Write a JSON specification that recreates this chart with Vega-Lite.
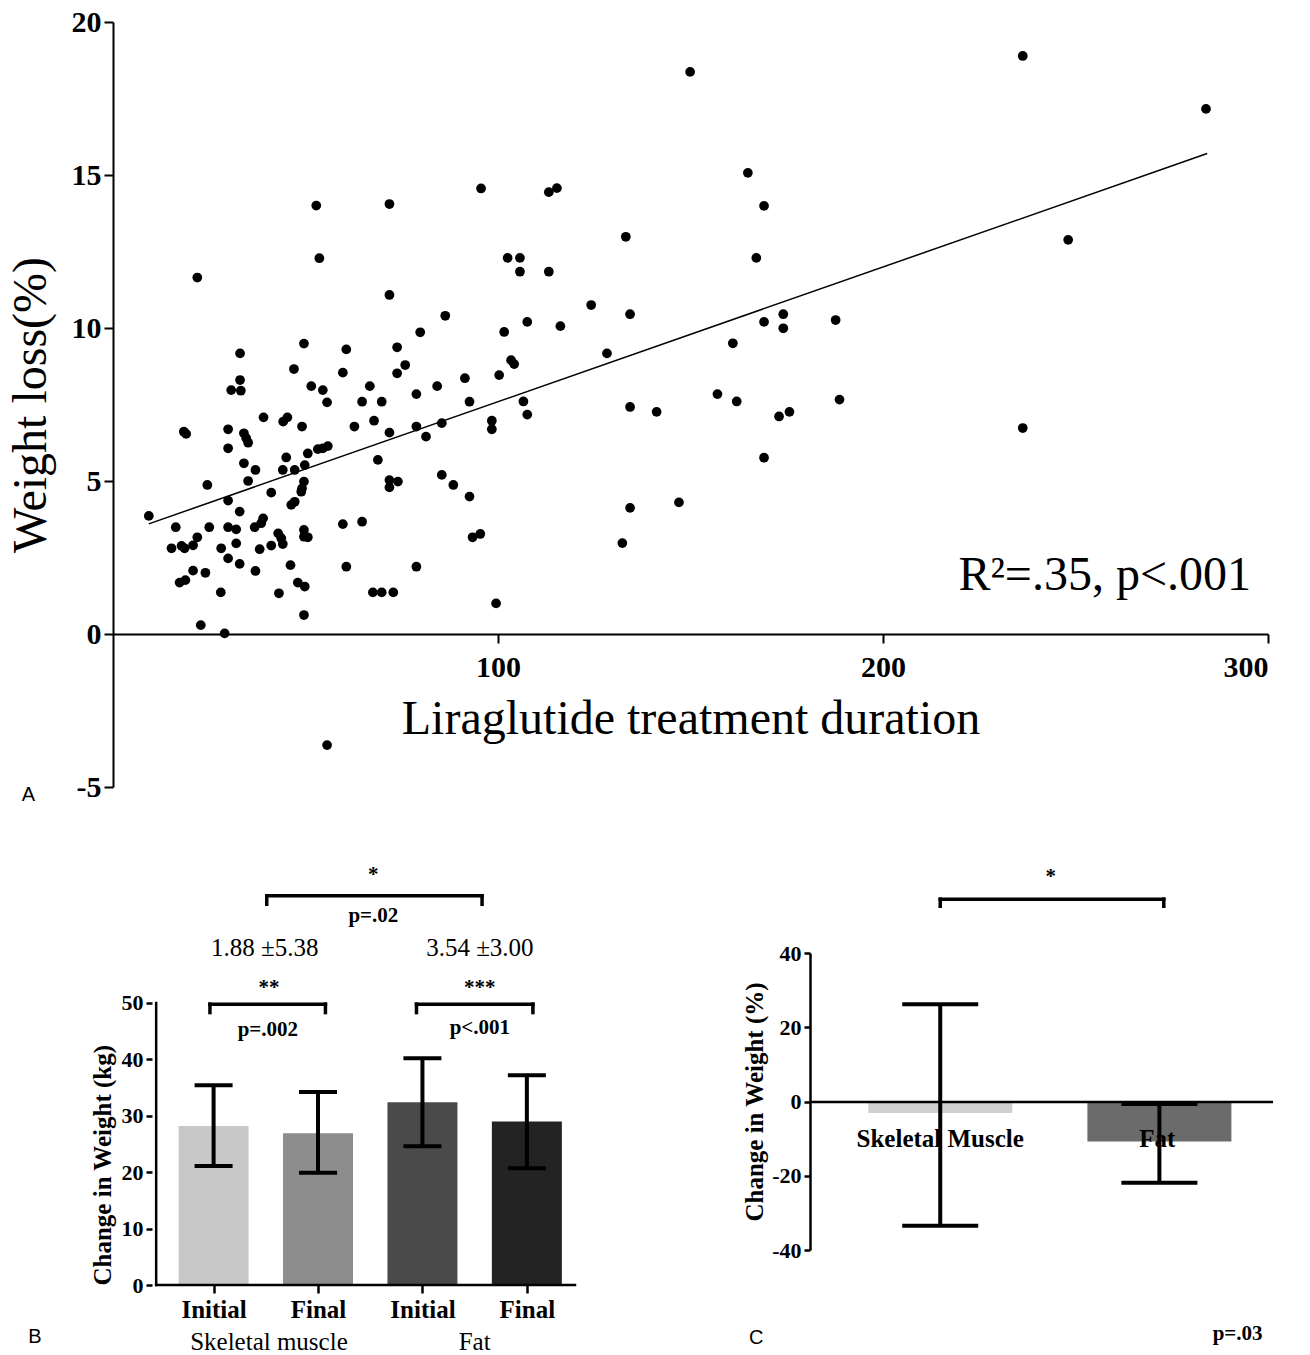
{
  "$schema": "https://vega.github.io/schema/vega-lite/v6.json",
  "background": "white",
  "padding": {"left": 7, "top": 7, "right": 0, "bottom": 0},
  "config": {
    "view": {"stroke": null},
    "font": "Liberation Serif",
    "axis": {"grid": false, "domainColor": "black", "tickColor": "black", "labelColor": "black", "titleColor": "black", "labelFont": "Liberation Serif", "titleFont": "Liberation Serif", "labelFontWeight": "bold"}
  },
  "spacing": 58,
  "resolve": {"scale": {"color": "independent"}},
  "datasets": {
    "scatter": [
      {"duration": 18.4, "loss": 6.61}, {"duration": 19.0, "loss": 6.54}, {"duration": 29.9, "loss": 6.69}, {"duration": 34.0, "loss": 6.56},
      {"duration": 34.6, "loss": 6.40}, {"duration": 35.1, "loss": 6.25}, {"duration": 29.9, "loss": 6.07}, {"duration": 49.1, "loss": 6.78},
      {"duration": 34.0, "loss": 5.58}, {"duration": 37.0, "loss": 5.36}, {"duration": 35.1, "loss": 5.00}, {"duration": 24.5, "loss": 4.87},
      {"duration": 45.0, "loss": 5.77}, {"duration": 44.1, "loss": 5.36}, {"duration": 47.2, "loss": 5.36}, {"duration": 49.8, "loss": 5.52},
      {"duration": 50.6, "loss": 5.90}, {"duration": 53.2, "loss": 6.04}, {"duration": 54.5, "loss": 6.07}, {"duration": 55.8, "loss": 6.14},
      {"duration": 49.6, "loss": 4.98}, {"duration": 49.1, "loss": 4.76}, {"duration": 48.9, "loss": 4.65}, {"duration": 41.1, "loss": 4.62},
      {"duration": 29.9, "loss": 4.36}, {"duration": 46.3, "loss": 4.22}, {"duration": 47.2, "loss": 4.32}, {"duration": 9.3, "loss": 3.86},
      {"duration": 32.9, "loss": 4.00}, {"duration": 39.0, "loss": 3.78}, {"duration": 38.5, "loss": 3.62}, {"duration": 36.8, "loss": 3.49},
      {"duration": 29.9, "loss": 3.49}, {"duration": 32.0, "loss": 3.42}, {"duration": 25.0, "loss": 3.49}, {"duration": 16.3, "loss": 3.49},
      {"duration": 21.9, "loss": 3.16}, {"duration": 15.2, "loss": 2.80}, {"duration": 17.8, "loss": 2.88}, {"duration": 18.6, "loss": 2.80},
      {"duration": 20.8, "loss": 2.90}, {"duration": 32.0, "loss": 2.96}, {"duration": 28.1, "loss": 2.80}, {"duration": 29.9, "loss": 2.47},
      {"duration": 32.9, "loss": 2.29}, {"duration": 38.1, "loss": 2.77}, {"duration": 41.1, "loss": 2.89}, {"duration": 42.9, "loss": 3.29},
      {"duration": 43.7, "loss": 3.13}, {"duration": 44.1, "loss": 2.94}, {"duration": 49.6, "loss": 3.40}, {"duration": 49.6, "loss": 3.18},
      {"duration": 50.6, "loss": 3.16}, {"duration": 46.1, "loss": 2.25}, {"duration": 37.0, "loss": 2.06}, {"duration": 20.8, "loss": 2.07},
      {"duration": 24.0, "loss": 2.00}, {"duration": 17.3, "loss": 1.68}, {"duration": 18.8, "loss": 1.76}, {"duration": 28.0, "loss": 1.36},
      {"duration": 43.1, "loss": 1.33}, {"duration": 48.0, "loss": 1.68}, {"duration": 49.8, "loss": 1.55}, {"duration": 49.6, "loss": 0.62},
      {"duration": 22.8, "loss": 0.29}, {"duration": 29.0, "loss": 0.02},
      {"duration": 21.9, "loss": 11.65}, {"duration": 53.6, "loss": 12.28}, {"duration": 49.6, "loss": 9.49}, {"duration": 33.0, "loss": 9.17},
      {"duration": 47.0, "loss": 8.66}, {"duration": 33.0, "loss": 8.30}, {"duration": 30.7, "loss": 7.97}, {"duration": 33.2, "loss": 7.95},
      {"duration": 51.5, "loss": 8.10}, {"duration": 54.5, "loss": 7.97}, {"duration": 55.6, "loss": 7.57}, {"duration": 39.1, "loss": 7.08},
      {"duration": 44.2, "loss": 6.94}, {"duration": 45.3, "loss": 7.08},
      {"duration": 52.8, "loss": 14.0}, {"duration": 55.6, "loss": -3.63},
      {"duration": 71.8, "loss": 14.05}, {"duration": 95.6, "loss": 14.56}, {"duration": 71.8, "loss": 11.08}, {"duration": 86.3, "loss": 10.40},
      {"duration": 79.8, "loss": 9.86}, {"duration": 60.6, "loss": 9.30}, {"duration": 73.8, "loss": 9.37}, {"duration": 75.9, "loss": 8.79},
      {"duration": 73.8, "loss": 8.52}, {"duration": 59.7, "loss": 8.54}, {"duration": 91.4, "loss": 8.36}, {"duration": 84.2, "loss": 8.10},
      {"duration": 66.7, "loss": 8.10}, {"duration": 78.8, "loss": 7.84}, {"duration": 64.7, "loss": 7.59}, {"duration": 69.8, "loss": 7.59},
      {"duration": 92.6, "loss": 7.59}, {"duration": 67.8, "loss": 6.97}, {"duration": 62.7, "loss": 6.78}, {"duration": 71.8, "loss": 6.58},
      {"duration": 78.8, "loss": 6.78}, {"duration": 81.3, "loss": 6.45}, {"duration": 85.4, "loss": 6.89}, {"duration": 98.4, "loss": 6.97},
      {"duration": 98.4, "loss": 6.69}, {"duration": 68.8, "loss": 5.69}, {"duration": 71.8, "loss": 5.03}, {"duration": 74.0, "loss": 4.98},
      {"duration": 71.8, "loss": 4.79}, {"duration": 85.4, "loss": 5.20}, {"duration": 88.4, "loss": 4.87}, {"duration": 92.6, "loss": 4.49},
      {"duration": 59.7, "loss": 3.59}, {"duration": 64.7, "loss": 3.67}, {"duration": 93.4, "loss": 3.16}, {"duration": 95.4, "loss": 3.27},
      {"duration": 60.6, "loss": 2.20}, {"duration": 78.8, "loss": 2.20}, {"duration": 67.5, "loss": 1.36}, {"duration": 69.8, "loss": 1.36},
      {"duration": 72.8, "loss": 1.36}, {"duration": 99.5, "loss": 1.00},
      {"duration": 149.9, "loss": 18.37}, {"duration": 164.9, "loss": 15.07}, {"duration": 113.2, "loss": 14.44}, {"duration": 115.3, "loss": 14.57},
      {"duration": 169.1, "loss": 13.99}, {"duration": 133.2, "loss": 12.98}, {"duration": 102.5, "loss": 12.29}, {"duration": 105.7, "loss": 12.29},
      {"duration": 105.7, "loss": 11.84}, {"duration": 113.2, "loss": 11.84}, {"duration": 167.1, "loss": 12.29}, {"duration": 124.2, "loss": 10.75},
      {"duration": 134.3, "loss": 10.45}, {"duration": 107.6, "loss": 10.20}, {"duration": 116.2, "loss": 10.06}, {"duration": 101.6, "loss": 9.87},
      {"duration": 169.1, "loss": 10.20}, {"duration": 174.1, "loss": 10.45}, {"duration": 174.1, "loss": 9.99}, {"duration": 187.7, "loss": 10.26},
      {"duration": 161.0, "loss": 9.50}, {"duration": 128.3, "loss": 9.17}, {"duration": 103.4, "loss": 8.95}, {"duration": 104.2, "loss": 8.82},
      {"duration": 100.3, "loss": 8.46}, {"duration": 157.0, "loss": 7.84}, {"duration": 162.0, "loss": 7.60}, {"duration": 106.6, "loss": 7.60},
      {"duration": 107.6, "loss": 7.17}, {"duration": 134.3, "loss": 7.42}, {"duration": 141.2, "loss": 7.26}, {"duration": 173.0, "loss": 7.11},
      {"duration": 175.7, "loss": 7.26}, {"duration": 188.7, "loss": 7.66}, {"duration": 169.1, "loss": 5.76}, {"duration": 147.0, "loss": 4.30},
      {"duration": 134.3, "loss": 4.12}, {"duration": 132.3, "loss": 2.97},
      {"duration": 236.3, "loss": 18.89}, {"duration": 283.9, "loss": 17.16}, {"duration": 248.1, "loss": 12.88}, {"duration": 236.3, "loss": 6.73}
    ],
    "fitA": [{"duration": 9.3, "loss": 3.6}, {"duration": 284.2, "loss": 15.7}],
    "statA": [{"duration": 219.6, "loss": 1.9, "label": "R²=.35, p<.001"}],
    "panelA": [{"duration": -22, "loss": -5.26, "label": "A"}],
    "barsB": [
      {"pos": 1, "bar": "Skeletal muscle Initial", "mean": 28.2, "lo": 21.1, "hi": 35.4},
      {"pos": 2, "bar": "Skeletal muscle Final", "mean": 26.9, "lo": 19.9, "hi": 34.2},
      {"pos": 3, "bar": "Fat Initial", "mean": 32.4, "lo": 24.6, "hi": 40.2},
      {"pos": 4, "bar": "Fat Final", "mean": 29.0, "lo": 20.7, "hi": 37.2}
    ],
    "axesB": [
      {"x": 0.45, "x2": 4.461, "y": 0, "y2": 0},
      {"x": 0.45, "x2": 0.45, "y": 0, "y2": 50}
    ],
    "bracketsB": [
      {"x": 0.965, "x2": 2.071, "y": 49.8, "y2": 49.8},
      {"x": 0.965, "x2": 0.965, "y": 48.3, "y2": 49.8},
      {"x": 2.071, "x2": 2.071, "y": 48.3, "y2": 49.8},
      {"x": 2.943, "x2": 4.058, "y": 49.8, "y2": 49.8},
      {"x": 2.943, "x2": 2.943, "y": 48.3, "y2": 49.8},
      {"x": 4.058, "x2": 4.058, "y": 48.3, "y2": 49.8},
      {"x": 1.509, "x2": 3.571, "y": 69.0, "y2": 69.0},
      {"x": 1.509, "x2": 1.509, "y": 67.5, "y2": 69.0},
      {"x": 3.571, "x2": 3.571, "y": 67.5, "y2": 69.0}
    ],
    "textBbold": [
      {"x": 1.53, "y": 52.6, "label": "**"},
      {"x": 1.52, "y": 45.3, "label": "p=.002"},
      {"x": 3.55, "y": 52.6, "label": "***"},
      {"x": 3.55, "y": 45.6, "label": "p<.001"},
      {"x": 2.53, "y": 72.7, "label": "*"},
      {"x": 2.53, "y": 65.5, "label": "p=.02"}
    ],
    "textBnorm": [
      {"x": 1.49, "y": 59.8, "label": "1.88 ±5.38"},
      {"x": 3.55, "y": 59.8, "label": "3.54 ±3.00"},
      {"x": 1.53, "y": -10.1, "label": "Skeletal muscle"},
      {"x": 3.50, "y": -10.1, "label": "Fat"}
    ],
    "panelB": [{"x": -0.712, "y": -9.2, "label": "B"}],
    "barsC": [
      {"pos": 1, "part": "Skeletal Muscle", "mean": -3.1, "lo": -33.5, "hi": 26.2},
      {"pos": 2, "part": "Fat", "mean": -10.8, "lo": -21.9, "hi": -0.7}
    ],
    "bracketsC": [
      {"x": 1.0, "x2": 2.02, "y": 54.5, "y2": 54.5},
      {"x": 1.0, "x2": 1.0, "y": 52.6, "y2": 54.5},
      {"x": 2.02, "x2": 2.02, "y": 52.6, "y2": 54.5}
    ],
    "labelsC": [{"x": 1.0, "y": -10.1, "label": "Skeletal Muscle"}, {"x": 1.99, "y": -10.1, "label": "Fat"}],
    "textCbold": [{"x": 1.504, "y": 60.6, "label": "*"}, {"x": 2.357, "y": -62.6, "label": "p=.03"}],
    "panelC": [{"x": 0.16, "y": -63.6, "label": "C"}]
  },
  "vconcat": [
    {
      "width": 1155,
      "height": 765,
      "layer": [
        {
          "data": {"name": "scatter"},
          "mark": {"type": "point", "filled": true, "color": "black", "opacity": 1, "size": 95},
          "encoding": {
            "x": {"field": "duration", "type": "quantitative", "scale": {"domain": [0, 300], "nice": false, "zero": false},
              "axis": {"values": [100, 200, 300], "offset": -153, "domainWidth": 2, "tickWidth": 2, "tickSize": 9, "labelFontSize": 30, "labelPadding": 9, "title": "Liraglutide treatment duration", "titleFont": "Liberation Serif", "titleFontSize": 48, "titleFontWeight": "normal", "titlePadding": 13}},
            "y": {"field": "loss", "type": "quantitative", "scale": {"domain": [-5, 20], "nice": false, "zero": false},
              "axis": {"values": [-5, 0, 5, 10, 15, 20], "domainWidth": 2, "tickWidth": 2, "tickSize": 9, "labelFontSize": 30, "labelPadding": 3, "labelExpr": "replace(datum.label, '\u2212', '-')", "title": "Weight loss(%)", "titleFont": "Liberation Serif", "titleFontSize": 48, "titleFontWeight": "normal", "titlePadding": 16}}
          }
        },
        {
          "data": {"name": "fitA"},
          "mark": {"type": "line", "color": "black", "strokeWidth": 1.5},
          "encoding": {"x": {"field": "duration", "type": "quantitative"}, "y": {"field": "loss", "type": "quantitative"}}
        },
        {
          "data": {"name": "statA"},
          "mark": {"type": "text", "align": "left", "baseline": "middle", "font": "Liberation Serif", "fontSize": 48, "color": "black"},
          "encoding": {"x": {"field": "duration", "type": "quantitative"}, "y": {"field": "loss", "type": "quantitative"}, "text": {"field": "label"}}
        },
        {
          "data": {"name": "panelA"},
          "mark": {"type": "text", "align": "center", "baseline": "middle", "font": "Liberation Sans", "fontSize": 20, "color": "black"},
          "encoding": {"x": {"field": "duration", "type": "quantitative"}, "y": {"field": "loss", "type": "quantitative"}, "text": {"field": "label"}}
        }
      ]
    },
    {
      "spacing": 162,
      "resolve": {"scale": {"color": "independent"}},
      "hconcat": [
        {
          "width": 467,
          "height": 332,
          "layer": [
            {
              "data": {"name": "barsB"},
              "mark": {"type": "bar", "width": 70},
              "encoding": {
                "x": {"field": "pos", "type": "quantitative", "scale": {"domain": [0.0845, 4.461], "nice": false, "zero": false},
                  "axis": {"values": [1, 2, 3, 4], "labelExpr": "datum.value == 1 || datum.value == 3 ? 'Initial' : 'Final'", "domain": false, "tickWidth": 2.5, "tickSize": 8, "labelFontSize": 25, "labelPadding": 4, "title": null}},
                "y": {"field": "mean", "type": "quantitative", "scale": {"domain": [0, 58.865], "nice": false},
                  "axis": {"values": [0, 10, 20, 30, 40, 50], "offset": -39, "domain": false, "tickWidth": 2.5, "tickSize": 6, "labelFontSize": 22, "labelPadding": 3, "title": "Change in Weight (kg)", "titleFont": "Liberation Serif", "titleFontSize": 25, "titleFontWeight": "bold", "titlePadding": 6, "titleAnchor": "start"}},
                "color": {"field": "bar", "type": "nominal", "scale": {"domain": ["Skeletal muscle Initial", "Skeletal muscle Final", "Fat Initial", "Fat Final"], "range": ["#c8c8c8", "#8d8d8d", "#4a4a4a", "#232323"]}, "legend": null}
              }
            },
            {
              "data": {"name": "axesB"},
              "mark": {"type": "rule", "strokeWidth": 2.5, "color": "black", "strokeCap": "square"},
              "encoding": {"x": {"field": "x", "type": "quantitative"}, "x2": {"field": "x2"}, "y": {"field": "y", "type": "quantitative"}, "y2": {"field": "y2"}}
            },
            {
              "data": {"name": "barsB"},
              "mark": {"type": "rule", "strokeWidth": 4, "color": "black"},
              "encoding": {"x": {"field": "pos", "type": "quantitative"}, "y": {"field": "lo", "type": "quantitative"}, "y2": {"field": "hi"}}
            },
            {
              "data": {"name": "barsB"},
              "mark": {"type": "tick", "orient": "horizontal", "size": 38, "thickness": 4, "color": "black", "opacity": 1},
              "encoding": {"x": {"field": "pos", "type": "quantitative"}, "y": {"field": "lo", "type": "quantitative"}}
            },
            {
              "data": {"name": "barsB"},
              "mark": {"type": "tick", "orient": "horizontal", "size": 38, "thickness": 4, "color": "black", "opacity": 1},
              "encoding": {"x": {"field": "pos", "type": "quantitative"}, "y": {"field": "hi", "type": "quantitative"}}
            },
            {
              "data": {"name": "bracketsB"},
              "mark": {"type": "rule", "strokeWidth": 3.5, "color": "black", "strokeCap": "square"},
              "encoding": {"x": {"field": "x", "type": "quantitative"}, "x2": {"field": "x2"}, "y": {"field": "y", "type": "quantitative"}, "y2": {"field": "y2"}}
            },
            {
              "data": {"name": "textBbold"},
              "mark": {"type": "text", "align": "center", "baseline": "middle", "font": "Liberation Serif", "fontWeight": "bold", "fontSize": 21, "color": "black"},
              "encoding": {"x": {"field": "x", "type": "quantitative"}, "y": {"field": "y", "type": "quantitative"}, "text": {"field": "label"}}
            },
            {
              "data": {"name": "textBnorm"},
              "mark": {"type": "text", "align": "center", "baseline": "middle", "font": "Liberation Serif", "fontSize": 25, "color": "black"},
              "encoding": {"x": {"field": "x", "type": "quantitative"}, "y": {"field": "y", "type": "quantitative"}, "text": {"field": "label"}}
            },
            {
              "data": {"name": "panelB"},
              "mark": {"type": "text", "align": "center", "baseline": "middle", "font": "Liberation Sans", "fontSize": 20, "color": "black"},
              "encoding": {"x": {"field": "x", "type": "quantitative"}, "y": {"field": "y", "type": "quantitative"}, "text": {"field": "label"}}
            }
          ]
        },
        {
          "width": 463,
          "height": 297,
          "layer": [
            {
              "data": {"name": "barsC"},
              "mark": {"type": "bar", "width": 144},
              "encoding": {
                "x": {"field": "pos", "type": "quantitative", "scale": {"domain": [0.4286, 2.4955], "nice": false, "zero": false},
                  "axis": {"offset": -148.5, "labels": false, "ticks": false, "domainWidth": 2.5, "title": null, "zindex": 1}},
                "y": {"field": "mean", "type": "quantitative", "scale": {"domain": [-40, 40], "nice": false},
                  "axis": {"values": [-40, -20, 0, 20, 40], "labelExpr": "replace(datum.label, '\u2212', '-')", "domainWidth": 2.5, "tickWidth": 2.5, "tickSize": 6, "labelFontSize": 22, "labelPadding": 3, "title": "Change in Weight (%)", "titleFont": "Liberation Serif", "titleFontSize": 25, "titleFontWeight": "bold", "titlePadding": 4}},
                "color": {"field": "part", "type": "nominal", "scale": {"domain": ["Skeletal Muscle", "Fat"], "range": ["#d0d0d0", "#6b6b6b"]}, "legend": null}
              }
            },
            {
              "data": {"name": "labelsC"},
              "mark": {"type": "text", "align": "center", "baseline": "middle", "font": "Liberation Serif", "fontWeight": "bold", "fontSize": 25, "color": "black"},
              "encoding": {"x": {"field": "x", "type": "quantitative"}, "y": {"field": "y", "type": "quantitative"}, "text": {"field": "label"}}
            },
            {
              "data": {"name": "barsC"},
              "mark": {"type": "rule", "strokeWidth": 4, "color": "black"},
              "encoding": {"x": {"field": "pos", "type": "quantitative"}, "y": {"field": "lo", "type": "quantitative"}, "y2": {"field": "hi"}}
            },
            {
              "data": {"name": "barsC"},
              "mark": {"type": "tick", "orient": "horizontal", "size": 76, "thickness": 4, "color": "black", "opacity": 1},
              "encoding": {"x": {"field": "pos", "type": "quantitative"}, "y": {"field": "lo", "type": "quantitative"}}
            },
            {
              "data": {"name": "barsC"},
              "mark": {"type": "tick", "orient": "horizontal", "size": 76, "thickness": 4, "color": "black", "opacity": 1},
              "encoding": {"x": {"field": "pos", "type": "quantitative"}, "y": {"field": "hi", "type": "quantitative"}}
            },
            {
              "data": {"name": "bracketsC"},
              "mark": {"type": "rule", "strokeWidth": 3.5, "color": "black", "strokeCap": "square"},
              "encoding": {"x": {"field": "x", "type": "quantitative"}, "x2": {"field": "x2"}, "y": {"field": "y", "type": "quantitative"}, "y2": {"field": "y2"}}
            },
            {
              "data": {"name": "textCbold"},
              "mark": {"type": "text", "align": "center", "baseline": "middle", "font": "Liberation Serif", "fontWeight": "bold", "fontSize": 21, "color": "black"},
              "encoding": {"x": {"field": "x", "type": "quantitative"}, "y": {"field": "y", "type": "quantitative"}, "text": {"field": "label"}}
            },
            {
              "data": {"name": "panelC"},
              "mark": {"type": "text", "align": "center", "baseline": "middle", "font": "Liberation Sans", "fontSize": 20, "color": "black"},
              "encoding": {"x": {"field": "x", "type": "quantitative"}, "y": {"field": "y", "type": "quantitative"}, "text": {"field": "label"}}
            }
          ]
        }
      ]
    }
  ]
}
